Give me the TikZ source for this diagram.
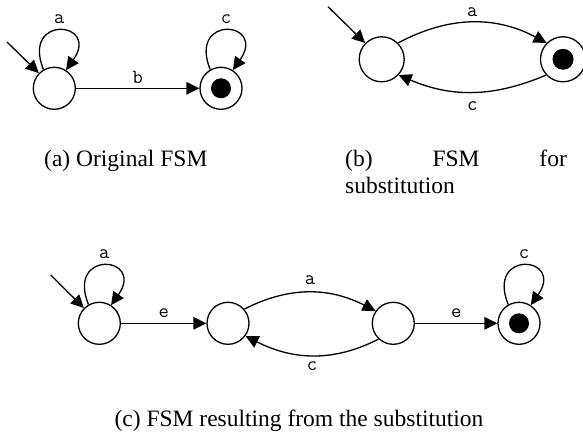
\documentclass[tikz,border=0pt]{standalone}
\usepackage{fontspec}
\setmainfont{Liberation Serif}
\usetikzlibrary{arrows.meta}

\begin{document}
\begin{tikzpicture}[x=1pt,y=1pt,
  state/.style={circle, draw, line width=1.3pt, minimum size=42pt, inner sep=0pt},
  bigstate/.style={state, minimum size=45pt},
  accept/.style={state, path picture={\fill (path picture bounding box.center) circle (10pt);}},
  bigaccept/.style={bigstate, path picture={\fill (path picture bounding box.center) circle (10.5pt);}},
  edge/.style={line width=1.3pt, -{Triangle[length=13pt,width=12.5pt]}},
  lbl/.style={font=\ttfamily\fontsize{20}{20}\selectfont, inner sep=0pt},
  caption/.style={font=\fontsize{23.5}{26.7}\selectfont, inner sep=0pt}]
\useasboundingbox[fill=white] (0,0) rectangle (583,434);

% ---- (a) original machine ----
\node[state]  (A0) at (54.3,345.7) {};
\node[accept] (A1) at (221,345.7) {};
\coordinate (A0in) at (7,392);
\draw[edge] (A0in) -- (A0);
\draw[edge] (A0.120) .. controls +(112:60) and +(55:60) .. (A0.57)
  node[lbl, pos=0.5, yshift=11] {a};
\draw[edge] (A1.120) .. controls +(112:60) and +(55:60) .. (A1.57)
  node[lbl, pos=0.5, yshift=11] {c};
\draw[edge] (A0) -- (A1) node[lbl, midway, yshift=11] {b};
\node[caption, anchor=base] (capA) at (125.8,267.3) {(a) Original FSM};

% ---- (b) machine used for the substitution ----
\node[bigstate]  (B0) at (381.7,374.7) {};
\node[bigaccept] (B1) at (563,374.7) {};
\coordinate (B0in) at (328,427.3);
\draw[edge] (B0in) -- (B0);
\draw[edge] (B0.45) to[out=28,in=152] node[lbl, yshift=10] {a} (B1.135);
\draw[edge] (B1.223) to[out=203,in=337] node[lbl, yshift=-14.3] {c} (B0.317);
\node[caption, anchor=base west, text width=221.7pt, align=left] (capB) at (345,267.3)
  {(b)\hfill FSM\hfill for\\substitution};

% ---- (c) machine after the substitution ----
\node[state]  (C1) at (99.3,110.7) {};
\node[state]  (C2) at (228,110.7) {};
\node[state]  (C3) at (393.3,110.7) {};
\node[accept] (C4) at (519,110.7) {};
\coordinate (C1in) at (50.7,159);
\draw[edge] (C1in) -- (C1);
\draw[edge] (C1.120) .. controls +(112:60) and +(55:60) .. (C1.57)
  node[lbl, pos=0.5, yshift=11] {a};
\draw[edge] (C4.120) .. controls +(112:60) and +(55:60) .. (C4.57)
  node[lbl, pos=0.5, yshift=11] {c};
\draw[edge] (C1) -- (C2) node[lbl, midway, yshift=10.5] {e};
\draw[edge] (C3) -- (C4) node[lbl, midway, yshift=10.5] {e};
\draw[edge] (C2.41) to[out=27,in=153] node[lbl, yshift=12.4] {a} (C3.145);
\draw[edge] (C3.227) to[out=207,in=333] node[lbl, yshift=-11.3] {c} (C2.324);
\node[caption, anchor=base] (capC) at (299,7.3) {(c) FSM resulting from the substitution};
\end{tikzpicture}
\end{document}
